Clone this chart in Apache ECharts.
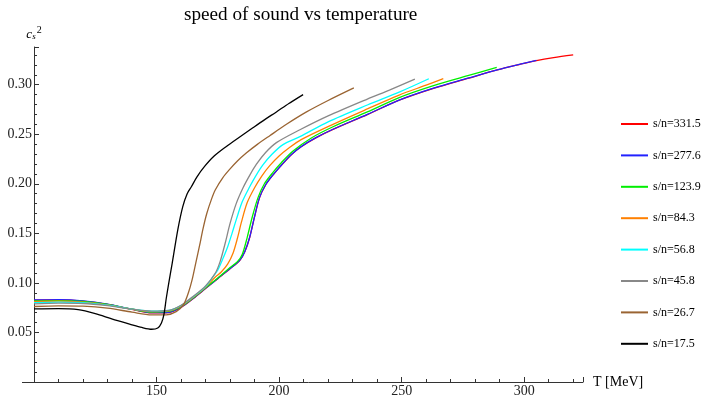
<!DOCTYPE html>
<html>
<head>
<meta charset="utf-8">
<script src="https://cdn.jsdelivr.net/npm/echarts@6/dist/echarts.min.js"></script>
<style>
  html, body { margin: 0; padding: 0; background: #fff; }
</style>
</head>
<body>
<div id="myChart" style="width:704px;height:396px"></div>
<script>
// values: [T (MeV), cs^2]
var sn331 = [[100,0.0826],[110,0.0828],[120,0.0816],[130,0.0783],[140,0.0733],[148,0.0698],[155,0.0701],[160,0.0753],[165,0.0843],[170,0.0943],[175,0.1043],[180,0.1143],[184,0.1228],[186,0.1313],[188,0.1458],[190,0.1668],[192,0.1858],[194.5,0.1988],[197.5,0.2088],[201,0.2188],[205,0.2293],[209,0.2373],[215,0.2463],[222,0.2548],[236,0.2698],[249,0.2843],[263,0.2963],[277,0.3063],[289,0.3148],[298,0.3203],[305,0.3243],[312,0.3273],[320,0.3300]]
var sn277 = [[100,0.0828],[110,0.0830],[120,0.0818],[130,0.0785],[140,0.0735],[148,0.0700],[155,0.0703],[160,0.0755],[165,0.0845],[170,0.0945],[175,0.1045],[180,0.1145],[184,0.1230],[186,0.1315],[188,0.1460],[190,0.1670],[192,0.1860],[194.5,0.1990],[197.5,0.2090],[201,0.2190],[205,0.2295],[209,0.2375],[215,0.2465],[222,0.2550],[236,0.2700],[249,0.2845],[263,0.2965],[277,0.3065],[289,0.3150],[298,0.3205],[305,0.3245]]
var sn124 = [[100,0.0818],[110,0.0822],[120,0.0812],[130,0.0782],[140,0.0735],[148,0.0706],[155,0.0712],[160,0.0762],[165,0.0850],[170,0.0950],[175,0.1050],[180,0.1155],[183,0.1215],[185,0.1290],[187,0.1460],[189,0.1660],[191.4,0.1860],[194,0.2000],[197.5,0.2115],[201,0.2215],[205.7,0.2330],[213,0.2460],[222,0.2575],[236,0.2725],[249,0.2870],[263,0.2990],[277,0.3090],[288.8,0.3175]]
var sn84 = [[100,0.0810],[110,0.0815],[120,0.0806],[130,0.0778],[140,0.0735],[148,0.0710],[155,0.0718],[160,0.0768],[165,0.0855],[170,0.0955],[174,0.1060],[176.4,0.1110],[179,0.1190],[181.2,0.1300],[183,0.1450],[184.6,0.1610],[187,0.1810],[190,0.1960],[193,0.2080],[196.1,0.2180],[200,0.2280],[204,0.2360],[209,0.2445],[222,0.2600],[236,0.2755],[249,0.2895],[260,0.2995],[267,0.3060]]
var sn57 = [[100,0.0800],[110,0.0806],[120,0.0800],[130,0.0775],[140,0.0735],[148,0.0715],[155,0.0722],[160,0.0772],[165,0.0860],[170,0.0962],[173,0.1060],[175,0.1130],[177,0.1240],[179.1,0.1370],[180.8,0.1500],[182.5,0.1636],[185,0.1820],[188,0.1970],[190.5,0.2080],[193.4,0.2190],[197,0.2295],[201.6,0.2395],[208.5,0.2475],[220,0.2625],[236,0.2795],[249,0.2925],[261.1,0.3060]]
var sn46 = [[100,0.0788],[110,0.0795],[120,0.0792],[130,0.0770],[140,0.0735],[148,0.0715],[155,0.0722],[160,0.0774],[165,0.0865],[170,0.0970],[174,0.1100],[176,0.1220],[178,0.1400],[180,0.1600],[182.5,0.1800],[185.3,0.1960],[188,0.2085],[190.7,0.2195],[194.5,0.2315],[198.9,0.2415],[208.5,0.2545],[220,0.2685],[236,0.2855],[245,0.2945],[255.4,0.3055]]
var sn27 = [[100,0.0762],[110,0.0768],[120,0.0765],[130,0.0745],[140,0.0705],[148,0.0678],[154,0.0678],[158,0.0710],[161,0.0780],[163,0.0900],[164.5,0.1030],[166,0.1200],[167.5,0.1370],[169,0.1550],[170.5,0.1700],[172.5,0.1850],[174,0.1940],[177,0.2060],[180,0.2150],[183,0.2230],[186.6,0.2310],[191,0.2395],[196.2,0.2485],[203,0.2600],[211.2,0.2725],[220,0.2840],[230.5,0.2967]]
var sn17 = [[100,0.0737],[110,0.0740],[118,0.0730],[125,0.0690],[132,0.0635],[139,0.0585],[144,0.0550],[148,0.0532],[150.5,0.0545],[152,0.0596],[153,0.0680],[154,0.0850],[155,0.1000],[156.4,0.1200],[158.7,0.1540],[160.7,0.1770],[162.5,0.1900],[164.2,0.1970],[166.5,0.2070],[169.6,0.2175],[173.5,0.2280],[178.5,0.2377],[183.5,0.2465],[189.3,0.2565],[194,0.2645],[198.9,0.2725],[204,0.2810],[209.8,0.2900]]

var names = ['s/n=331.5', 's/n=277.6', 's/n=123.9', 's/n=84.3', 's/n=56.8', 's/n=45.8', 's/n=26.7', 's/n=17.5']
var colors = ['#ff0000', '#2222ff', '#00ee00', '#ff8000', '#00ffff', '#888888', '#9a6432', '#000000']
var curves = [sn331, sn277, sn124, sn84, sn57, sn46, sn27, sn17]

var serif = 'Liberation Serif'

var myChart = echarts.init(document.getElementById('myChart'))

var series = names.map(function (name, i) {
  return {
    name: name,
    type: 'line',
    data: curves[i],
    symbol: 'none',
    smooth: 0.3,
    lineStyle: { width: 1.3, color: colors[i] },
    itemStyle: { color: colors[i] },
    z: 2 + i
  }
})

myChart.setOption({
  animation: false,
  title: {
    text: 'speed of sound vs temperature',
    left: 179,
    top: 0,
    textStyle: { fontFamily: serif, fontSize: 19.2, fontWeight: 'normal', color: '#000' }
  },
  legend: {
    orient: 'vertical',
    left: 616,
    top: 113,
    icon: 'rect',
    itemWidth: 27,
    itemHeight: 2,
    itemGap: 19.4,
    data: names,
    textStyle: { fontFamily: serif, fontSize: 12, color: '#000' }
  },
  // x axis line pokes out a little left of the y axis, like the original
  graphic: [{
    type: 'line',
    shape: { x1: 22, y1: 382.5, x2: 34, y2: 382.5 },
    style: { stroke: '#333', lineWidth: 1 }
  }],
  grid: { left: 34, right: 121, top: 47, bottom: 14, outerBoundsMode: 'none' },
  xAxis: {
    type: 'value',
    min: 100,
    max: 324,
    interval: 50,
    name: 'T [MeV]',
    nameLocation: 'end',
    nameGap: 10,
    nameTextStyle: { fontFamily: serif, fontSize: 14, color: '#000' },
    splitLine: { show: false },
    axisLine: { lineStyle: { color: '#333', width: 1 } },
    axisTick: { inside: true, length: 5, lineStyle: { color: '#333' } },
    minorTick: { show: true, splitNumber: 5, length: 3, lineStyle: { color: '#333' } },
    axisLabel: {
      margin: 2,
      fontFamily: serif,
      fontSize: 14,
      color: '#222',
      formatter: function (v) { return (v > 100 && v % 50 === 0) ? String(v) : '' }
    }
  },
  yAxis: {
    type: 'value',
    min: 0,
    max: 0.338,
    interval: 0.05,
    name: '{c|c}{s|s}{p|2}',
    nameLocation: 'end',
    nameGap: 6,
    nameTextStyle: {
      rich: {
        c: { fontFamily: serif, fontStyle: 'italic', fontSize: 13, color: '#000', verticalAlign: 'bottom' },
        s: { fontFamily: serif, fontStyle: 'italic', fontSize: 9, color: '#000', padding: [8, 0, 0, 0], verticalAlign: 'bottom' },
        p: { fontFamily: serif, fontSize: 10, color: '#000', padding: [0, 0, 6, 1], verticalAlign: 'bottom' }
      }
    },
    splitLine: { show: false },
    axisLine: { lineStyle: { color: '#333', width: 1 } },
    axisTick: { inside: true, length: 5, lineStyle: { color: '#333' } },
    minorTick: { show: true, splitNumber: 5, length: 3, lineStyle: { color: '#333' } },
    axisLabel: {
      margin: 2,
      fontFamily: serif,
      fontSize: 14,
      color: '#222',
      formatter: function (v) {
        var k = Math.round(v / 0.05)
        return (k > 0 && Math.abs(v - k * 0.05) < 1e-6) ? v.toFixed(2) : ''
      }
    }
  },
  series: series
})
</script>
</body>
</html>
